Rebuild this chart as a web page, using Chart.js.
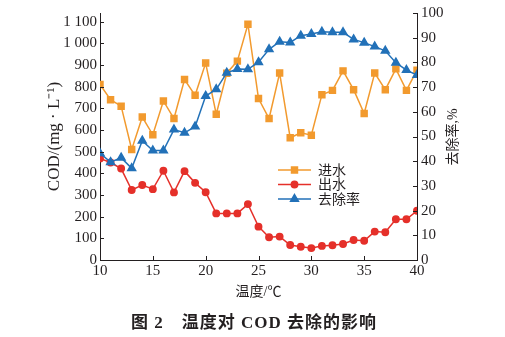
<!DOCTYPE html>
<html lang="zh">
<head>
  <meta charset="UTF-8" />
  <title>温度对 COD 去除的影响</title>
  <script src="https://cdn.jsdelivr.net/npm/chart.js"></script>
  <style>
    html, body { margin: 0; padding: 0; background: #fff; }
    #wrap { width: 505px; height: 337px; }
  </style>
</head>
<body>
  <div id="wrap"><canvas id="c" width="505" height="337"></canvas></div>
  <script>
    const temps = [10, 11, 12, 13, 14, 15, 16, 17, 18, 19, 20, 21, 22, 23, 24, 25,
                   26, 27, 28, 29, 30, 31, 32, 33, 34, 35, 36, 37, 38, 39, 40];
    const inflow = [810, 740, 710, 510, 660, 578, 734, 653, 833, 760, 909, 673, 862, 918, 1088, 745,
                    653, 863, 564, 587, 576, 763, 783, 873, 786, 676, 863, 786, 882, 783, 876];
    const outflow = [469, 450, 422, 323, 346, 327, 412, 312, 410, 356, 313, 215, 215, 215, 258, 154,
                     105, 108, 69, 61, 55, 65, 68, 74, 92, 89, 131, 128, 188, 188, 227];
    const removal = [43.2, 39.6, 41.4, 37.1, 48.3, 44.3, 44.3, 52.8, 51.5, 54.0, 66.4, 69.1, 75.8, 77.3, 77.2, 80.1,
                     85.3, 88.4, 88.1, 90.8, 91.5, 92.4, 92.2, 92.2, 89.3, 88.0, 86.4, 84.7, 79.9, 76.9, 74.9];
    const xTicks = [10, 15, 20, 25, 30, 35, 40];
    const codTicks = [0, 100, 200, 300, 400, 500, 600, 700, 800, 900, 1000, 1100];

    const ORANGE = '#f29a2e', RED = '#e5302a', BLUE = '#2271b8', INK = '#231f20';
    const SERIF = '"Liberation Serif", "Noto Sans CJK SC", serif';
    const CJK = '"Liberation Serif", "Noto Sans CJK SC", sans-serif';

    const pts = arr => temps.map((t, i) => ({ x: t, y: arr[i] }));

    // inward tick marks
    const innerTicks = {
      id: 'innerTicks',
      afterDraw(chart) {
        const { ctx, chartArea: a, scales } = chart;
        ctx.save();
        ctx.strokeStyle = INK;
        ctx.lineWidth = 1;
        ctx.beginPath();
        scales.x.ticks.forEach(t => {
          const px = Math.round(scales.x.getPixelForValue(t.value)) + 0.5;
          ctx.moveTo(px, a.bottom); ctx.lineTo(px, a.bottom - 4);
        });
        scales.y.ticks.forEach(t => {
          const py = Math.round(scales.y.getPixelForValue(t.value)) + 0.5;
          ctx.moveTo(a.left, py); ctx.lineTo(a.left + 4, py);
        });
        scales.y2.ticks.forEach(t => {
          const py = Math.round(scales.y2.getPixelForValue(t.value)) + 0.5;
          ctx.moveTo(a.right, py); ctx.lineTo(a.right - 4, py);
        });
        ctx.stroke();
        ctx.restore();
      }
    };

    // legend inside plot, right axis title, figure caption
    const extras = {
      id: 'extras',
      afterDraw(chart) {
        const { ctx } = chart;
        ctx.save();
        const x0 = 278, x1 = 311;
        chart.data.datasets.forEach((ds, i) => {
          const y = 170 + i * 14.5;
          ctx.strokeStyle = ds.borderColor;
          ctx.lineWidth = 1.5;
          ctx.beginPath(); ctx.moveTo(x0, y); ctx.lineTo(x1, y); ctx.stroke();
          ctx.fillStyle = ds.borderColor;
          Chart.helpers.drawPoint(ctx, {
            pointStyle: ds.pointStyle, radius: ds.pointRadius, borderWidth: 1
          }, (x0 + x1) / 2, y);
          ctx.fillStyle = INK;
          ctx.font = '14px ' + CJK;
          ctx.textBaseline = 'middle';
          ctx.textAlign = 'left';
          ctx.fillText(ds.label, 318, y + 1);
        });

        ctx.save();
        ctx.translate(453, 137);
        ctx.rotate(-Math.PI / 2);
        ctx.fillStyle = INK;
        ctx.font = '14px ' + CJK;
        ctx.textAlign = 'center';
        ctx.textBaseline = 'middle';
        ctx.fillText('去除率,%', 0, 0);
        ctx.restore();

        ctx.fillStyle = INK;
        ctx.font = 'bold 17px ' + CJK;
        ctx.letterSpacing = '1px';
        ctx.textAlign = 'center';
        ctx.textBaseline = 'middle';
        ctx.fillText('图 2　温度对 COD 去除的影响', 254, 324);
        ctx.restore();
      }
    };

    new Chart(document.getElementById('c'), {
      type: 'line',
      data: {
        datasets: [
          { label: '进水', data: pts(inflow), yAxisID: 'y', borderColor: ORANGE, backgroundColor: ORANGE,
            pointStyle: 'rect', pointRadius: 4.2, borderWidth: 1.5, order: 3 },
          { label: '出水', data: pts(outflow), yAxisID: 'y', borderColor: RED, backgroundColor: RED,
            pointStyle: 'circle', pointRadius: 3.2, borderWidth: 1.5, order: 2 },
          { label: '去除率', data: pts(removal), yAxisID: 'y2', borderColor: BLUE, backgroundColor: BLUE,
            pointStyle: 'triangle', pointRadius: 4.5, borderWidth: 1.5, order: 1 }
        ]
      },
      options: {
        responsive: false,
        animation: false,
        layout: { padding: { left: 44, right: 43, top: 13, bottom: 32 } },
        plugins: { legend: { display: false }, tooltip: { enabled: false } },
        scales: {
          x: {
            type: 'linear', min: 10, max: 40,
            afterBuildTicks: s => { s.ticks = xTicks.map(v => ({ value: v })); },
            afterFit: s => { s.height = 45; },
            grid: { display: false, drawTicks: false },
            border: { display: true, color: INK, width: 1 },
            ticks: { color: INK, padding: 2, font: { family: SERIF, size: 15 } },
            title: { display: true, text: '温度/℃', color: INK, padding: { top: 0 },
                     font: { family: CJK, size: 14 } }
          },
          y: {
            position: 'left', min: 0, max: 1140,
            afterBuildTicks: s => { s.ticks = codTicks.map(v => ({ value: v })); },
            afterFit: s => { s.width = 56; },
            grid: { display: false, drawTicks: false },
            border: { display: true, color: INK, width: 1 },
            ticks: { color: INK, padding: 3, font: { family: SERIF, size: 15 },
                     callback: v => v >= 1000 ? Math.floor(v / 1000) + ' ' + String(v % 1000).padStart(3, '0') : v },
            title: { display: true, text: 'COD/(mg · L⁻¹)', color: INK, padding: 0,
                     font: { family: SERIF, size: 17 } }
          },
          y2: {
            position: 'right', min: 0, max: 100,
            afterFit: s => { s.width = 45; },
            grid: { display: false, drawTicks: false },
            border: { display: true, color: INK, width: 1 },
            ticks: { stepSize: 10, color: INK, padding: 4, font: { family: SERIF, size: 15 } },
            title: { display: false }
          }
        }
      },
      plugins: [innerTicks, extras]
    });
  </script>
</body>
</html>
